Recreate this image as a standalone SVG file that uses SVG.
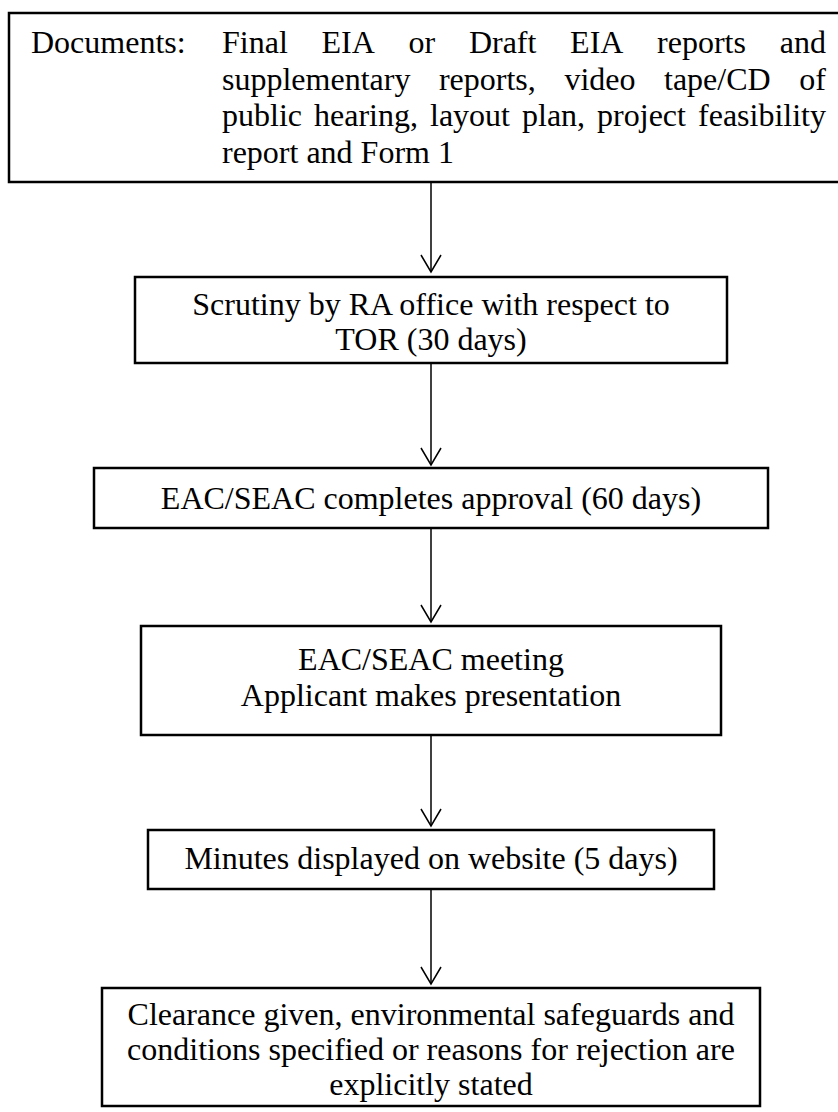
<svg xmlns="http://www.w3.org/2000/svg" width="838" height="1112" viewBox="0 0 838 1112">
  <style>
    .box { fill: #ffffff; stroke: #000000; stroke-width: 2.5; }
    .t { font-family: "Liberation Serif", "Times New Roman", serif; font-size: 32px; fill: #000000; }
    .c { text-anchor: middle; }
    .e { text-anchor: end; }
    .conn { stroke: #000000; stroke-width: 1.5; fill: none; marker-end: url(#arr); }
  </style>
  <defs>
    <marker id="arr" markerUnits="userSpaceOnUse" markerWidth="24" markerHeight="24" viewBox="-20 -12 24 24" refX="0" refY="0" orient="auto">
      <path d="M-17,-10 L0,0 L-17,10" fill="none" stroke="#000000" stroke-width="1.5"/>
    </marker>
  </defs>
  <rect width="838" height="1112" fill="#ffffff"/>

  <g id="connectors">
    <line class="conn" x1="431" y1="182" x2="431" y2="272"/>
    <line class="conn" x1="431" y1="363" x2="431" y2="465"/>
    <line class="conn" x1="431" y1="528" x2="431" y2="622"/>
    <line class="conn" x1="431" y1="735" x2="431" y2="826"/>
    <line class="conn" x1="431" y1="889" x2="431" y2="984"/>
  </g>

  <g id="node-documents">
    <rect class="box" x="9" y="13" width="840" height="169"/>
    <text class="t" x="31" y="53">Documents:</text>
    <text class="t" y="53"><tspan x="222">Final</tspan><tspan x="321.5">EIA</tspan><tspan x="408.5">or</tspan><tspan x="468.9">Draft</tspan><tspan x="570.1">EIA</tspan><tspan x="657.1">reports</tspan></text>
    <text class="t e" x="826" y="53">and</text>
    <text class="t" y="89.5"><tspan x="222">supplementary</tspan><tspan x="438.9">reports,</tspan><tspan x="564.4">video</tspan><tspan x="664">tape/CD</tspan></text>
    <text class="t e" x="826" y="89.5">of</text>
    <text class="t" y="126"><tspan x="222">public</tspan><tspan x="314">hearing,</tspan><tspan x="430">layout</tspan><tspan x="522">plan,</tspan><tspan x="597.1">project</tspan></text>
    <text class="t e" x="826" y="126">feasibility</text>
    <text class="t" x="222" y="163">report and Form 1</text>
  </g>

  <g id="node-scrutiny">
    <rect class="box" x="135" y="277" width="592" height="86"/>
    <text class="t c" x="431" y="315">Scrutiny by RA office with respect to</text>
    <text class="t c" x="431" y="350">TOR (30 days)</text>
  </g>

  <g id="node-approval">
    <rect class="box" x="94" y="468" width="674" height="60"/>
    <text class="t c" x="431" y="509">EAC/SEAC completes approval (60 days)</text>
  </g>

  <g id="node-meeting">
    <rect class="box" x="141" y="626" width="580" height="109"/>
    <text class="t c" x="431" y="670">EAC/SEAC meeting</text>
    <text class="t c" x="431" y="706">Applicant makes presentation</text>
  </g>

  <g id="node-minutes">
    <rect class="box" x="148" y="830" width="566" height="59"/>
    <text class="t c" x="431" y="869">Minutes displayed on website (5 days)</text>
  </g>

  <g id="node-clearance">
    <rect class="box" x="102" y="988" width="658" height="118"/>
    <text class="t c" x="431" y="1025">Clearance given, environmental safeguards and</text>
    <text class="t c" x="431" y="1060">conditions specified or reasons for rejection are</text>
    <text class="t c" x="431" y="1095">explicitly stated</text>
  </g>
</svg>
